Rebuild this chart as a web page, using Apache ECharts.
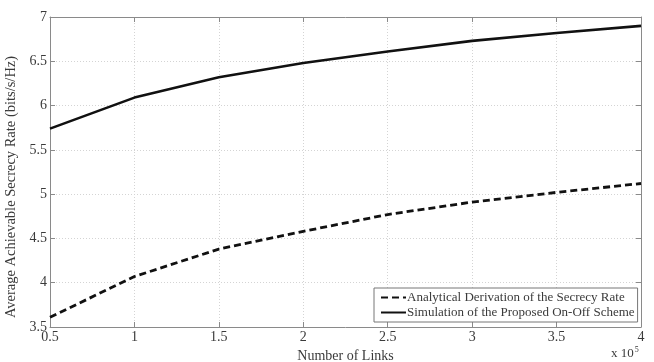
<!DOCTYPE html>
<html><head><meta charset="utf-8">
<script src="https://cdn.jsdelivr.net/npm/echarts@6/dist/echarts.min.js"></script>
<style>html,body{margin:0;padding:0;background:#fff}#c{width:654px;height:362px}</style>
</head><body><div id="c"></div>
<script>
const links = [0.5, 1, 1.5, 2, 2.5, 3, 3.5, 4];
const analytical = [3.61, 4.07, 4.38, 4.58, 4.77, 4.91, 5.02, 5.12];
const simulation = [5.74, 6.09, 6.32, 6.48, 6.61, 6.73, 6.82, 6.90];
const seriesNames = ['Analytical Derivation of the Secrecy Rate', 'Simulation of the Proposed On-Off Scheme'];

const font = 'Liberation Serif';
const axisCol = '#8a8a8a';
const txtCol = '#3a3a3a';
const chart = echarts.init(document.getElementById('c'), null, {renderer: 'canvas'});
const pairs = arr => links.map((x, i) => [x, arr[i]]);
const hiddenAxis = {
  axisLine: {show: true, lineStyle: {color: axisCol, width: 1}},
  axisTick: {show: true, inside: true, length: 5, lineStyle: {color: axisCol}},
  axisLabel: {show: false}, splitLine: {show: false}
};
chart.setOption({
  animation: false,
  textStyle: {fontFamily: font},
  grid: {left: 50, right: 13, top: 17, bottom: 35, containLabel: false, outerBoundsMode: 'none'},
  xAxis: [{
    type: 'value', min: 0.5, max: 4, interval: 0.5,
    name: 'Number of Links', nameLocation: 'middle', nameGap: 16,
    nameTextStyle: {fontFamily: font, fontSize: 14, color: txtCol},
    axisLine: {show: true, lineStyle: {color: axisCol, width: 1}},
    axisTick: {show: true, inside: true, length: 5, lineStyle: {color: axisCol}},
    axisLabel: {fontFamily: font, fontSize: 14, color: txtCol, margin: 3},
    splitLine: {show: true, lineStyle: {color: '#d4d4d4', type: [1, 2], width: 1}}
  }, Object.assign({type: 'value', min: 0.5, max: 4, interval: 0.5, position: 'top'}, hiddenAxis)],
  yAxis: [{
    type: 'value', min: 3.5, max: 7, interval: 0.5,
    name: 'Average Achievable Secrecy Rate (bits/s/Hz)', nameLocation: 'middle', nameGap: 20,
    nameTextStyle: {fontFamily: font, fontSize: 14.5, color: txtCol, padding: [0, 30, 0, 0]},
    axisLine: {show: true, lineStyle: {color: axisCol, width: 1}},
    axisTick: {show: true, inside: true, length: 5, lineStyle: {color: axisCol}},
    axisLabel: {fontFamily: font, fontSize: 14, color: txtCol, margin: 3},
    splitLine: {show: true, lineStyle: {color: '#d4d4d4', type: [1, 2], width: 1}}
  }, Object.assign({type: 'value', min: 3.5, max: 7, interval: 0.5, position: 'right'}, hiddenAxis)],
  legend: {
    left: 374, top: 288, orient: 'vertical',
    backgroundColor: '#fff', borderColor: '#777', borderWidth: 1,
    padding: [3, 3, 3, 6], itemGap: 2, itemWidth: 25, itemHeight: 13,
    itemStyle: {opacity: 0},
    textStyle: {fontFamily: font, fontSize: 13, color: txtCol, padding: [0, 0, 0, -4]},
    data: seriesNames
  },
  series: [{
    name: seriesNames[0], type: 'line', data: pairs(analytical), showSymbol: false, symbol: 'none',
    lineStyle: {color: '#111', width: 2.8, type: [7, 4]}, itemStyle: {color: '#111'}
  }, {
    name: seriesNames[1], type: 'line', data: pairs(simulation), showSymbol: false, symbol: 'none',
    lineStyle: {color: '#111', width: 2.6}, itemStyle: {color: '#111'}
  }],
  graphic: [{
    type: 'text', left: 611, top: 346,
    style: {
      text: '{a|x 10}{b|5}', fill: txtCol,
      rich: {a: {fontFamily: font, fontSize: 13, fill: txtCol}, b: {fontFamily: font, fontSize: 8, fill: txtCol, verticalAlign: 'top', padding: [0, 0, 7, 1]}}
    }
  }]
});
</script></body></html>
